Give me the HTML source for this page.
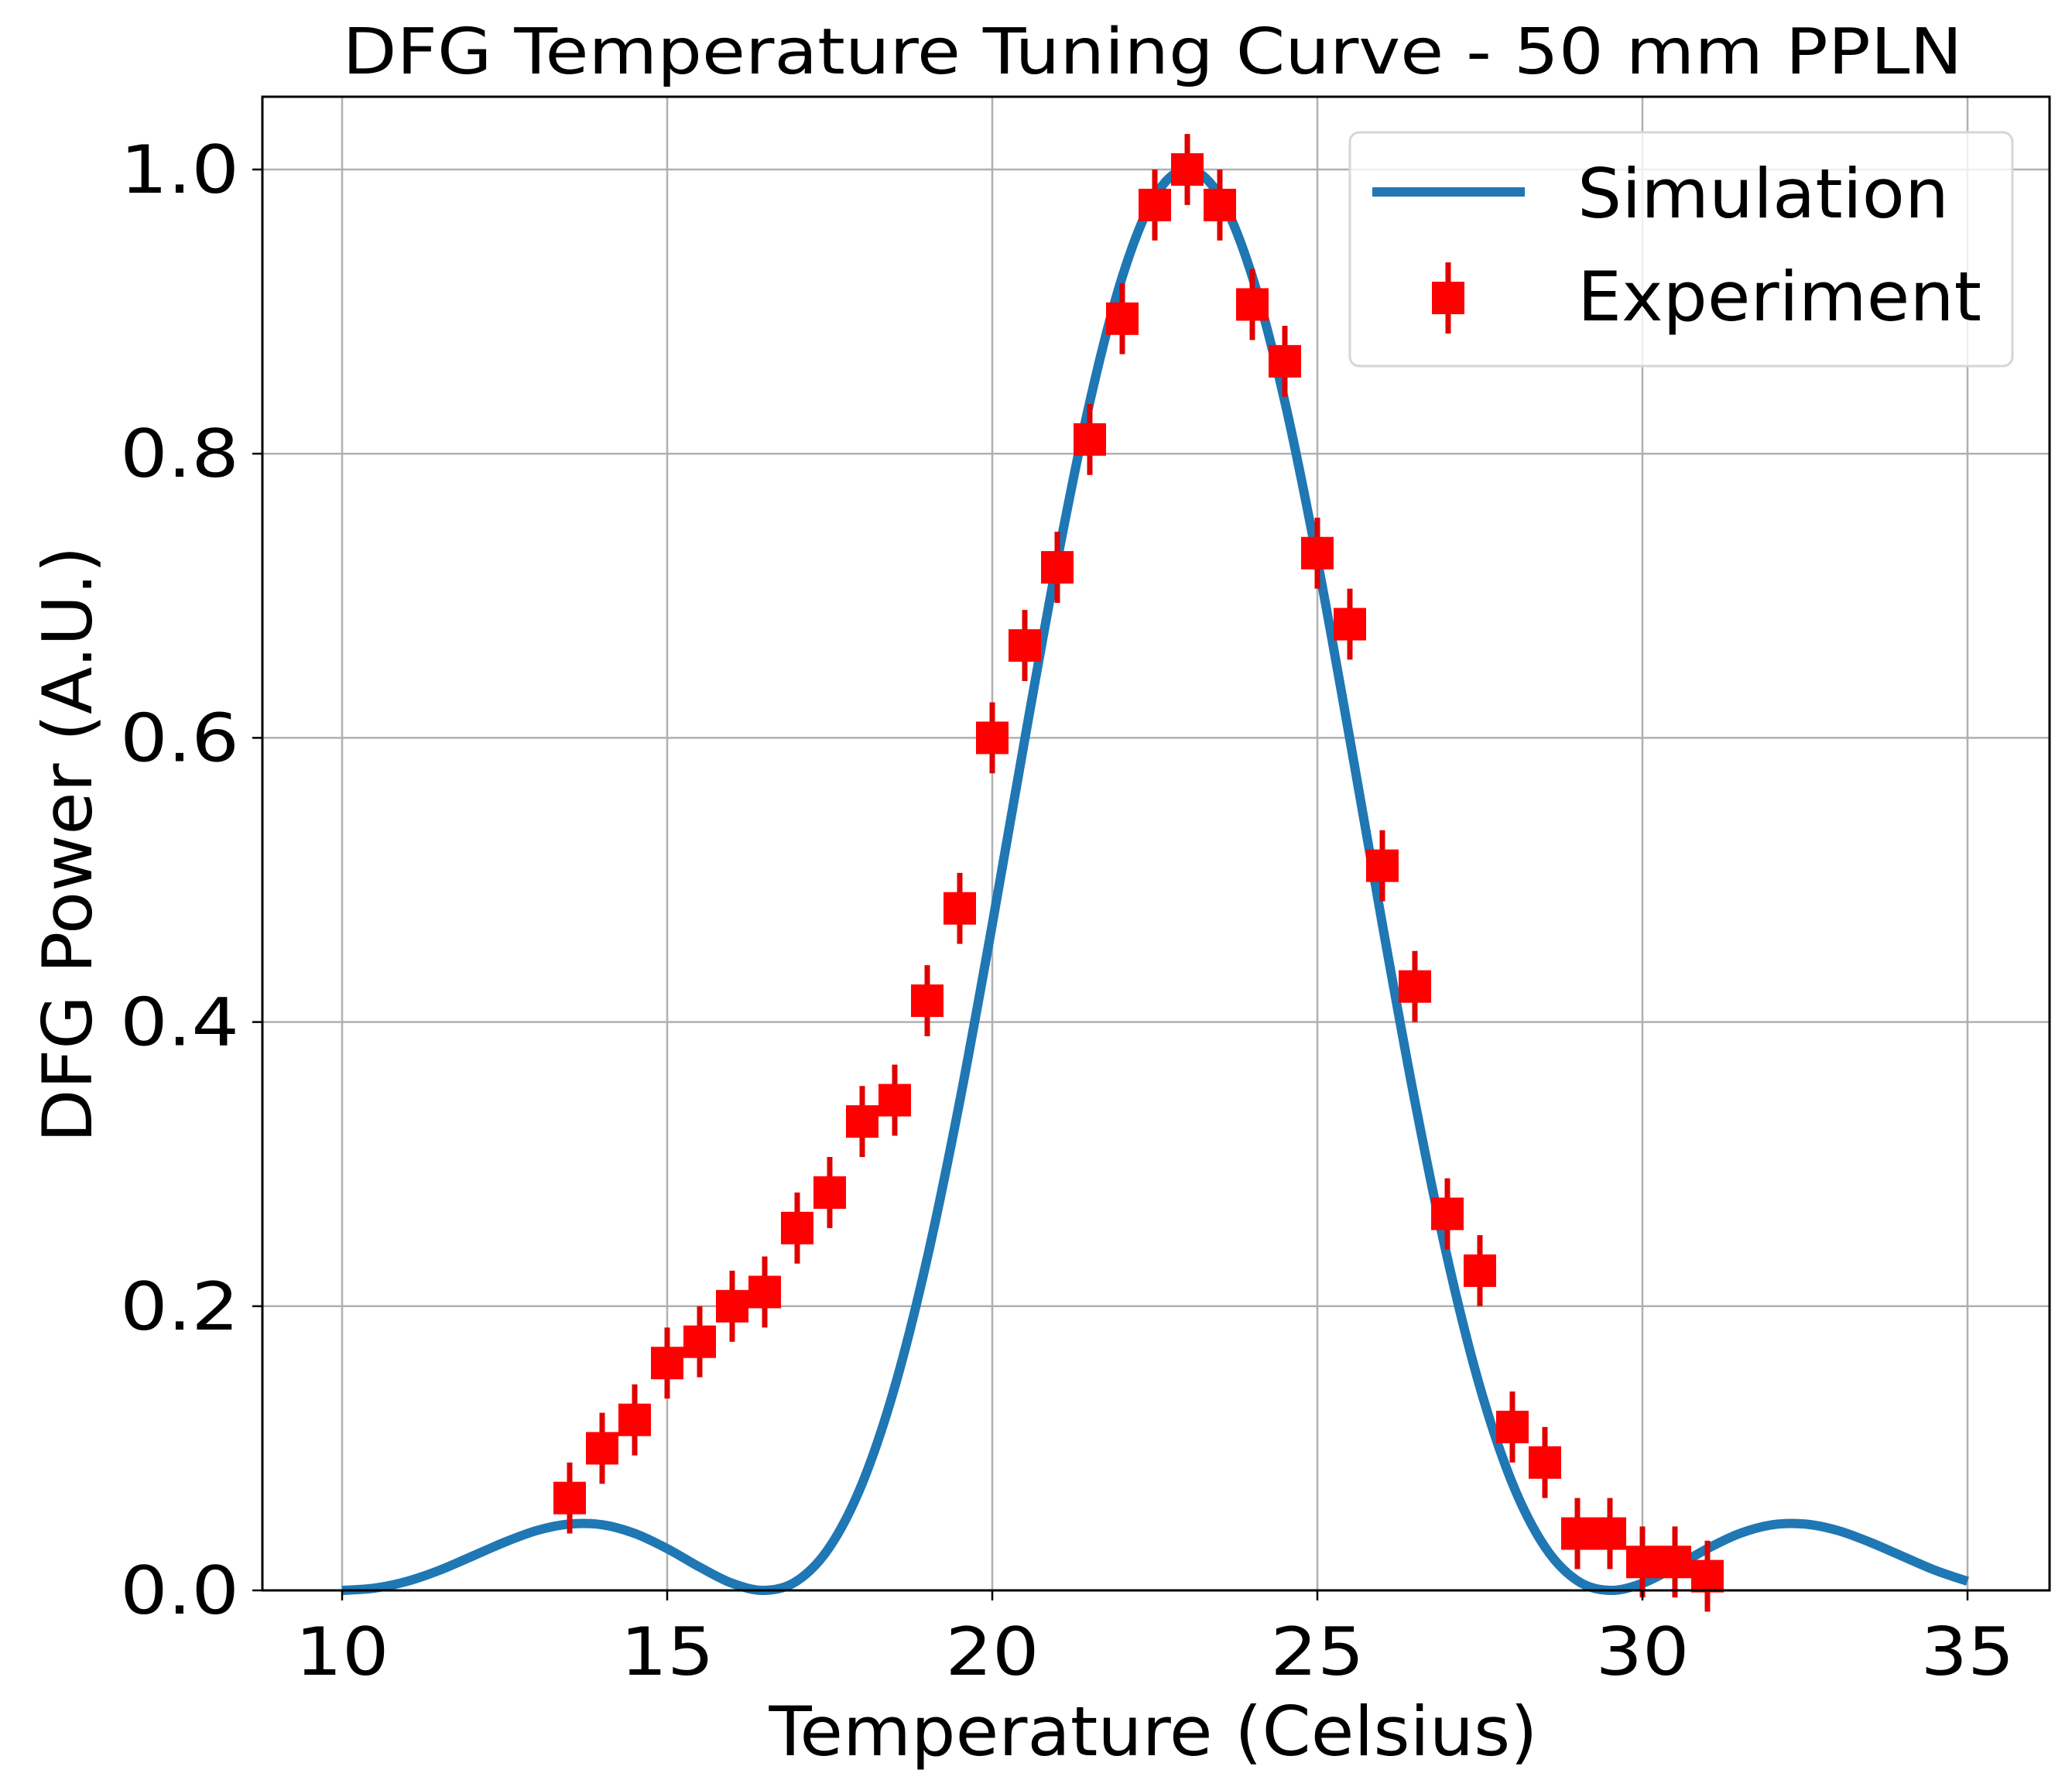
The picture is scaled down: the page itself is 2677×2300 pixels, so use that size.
<!DOCTYPE html>
<html><head><meta charset="utf-8"><style>
html,body{margin:0;padding:0;background:#fff;}
svg{display:block;font-family:"DejaVu Sans","Liberation Sans",sans-serif;}
</style></head><body>
<svg id="chart" width="2677" height="2300" viewBox="0 0 2677 2300" xmlns="http://www.w3.org/2000/svg">
<rect width="2677" height="2300" fill="#fff"/>
<g id="grid"></g>
<g id="sim"></g>
<g id="exp"></g>
<rect x="339" y="125" width="2309" height="1930" fill="none" stroke="#000" stroke-width="3"/>
<g id="ticks"></g>
<text x="1489" y="95" font-size="82" text-anchor="middle" textLength="2093" lengthAdjust="spacingAndGlyphs">DFG Temperature Tuning Curve - 50 mm PPLN</text>
<text x="1490" y="2268" font-size="88" text-anchor="middle" textLength="993" lengthAdjust="spacingAndGlyphs">Temperature (Celsius)</text>
<text x="0" y="0" font-size="88" text-anchor="middle" textLength="771" lengthAdjust="spacingAndGlyphs" transform="translate(118,1091) rotate(-90)">DFG Power (A.U.)</text>
<g>
<rect x="1744" y="171" width="856" height="302" rx="12" fill="#fff" fill-opacity="0.8" stroke="#d6d6d6" stroke-width="3"/>
<line x1="1773" y1="248" x2="1970" y2="248" stroke="#1f77b4" stroke-width="12"/>
<text x="2038" y="281" font-size="88" textLength="480" lengthAdjust="spacingAndGlyphs">Simulation</text>
<line x1="1871" y1="339" x2="1871" y2="431" stroke="#e00000" stroke-width="7"/>
<rect x="1850" y="364" width="42" height="42" fill="#ff0000"/>
<text x="2038" y="414" font-size="88" textLength="522" lengthAdjust="spacingAndGlyphs">Experiment</text>
</g>
</svg>
<script>
const xTicks = [10, 15, 20, 25, 30, 35];
const yTicks = [0.0, 0.2, 0.4, 0.6, 0.8, 1.0];
const yTickLabels = ["0.0", "0.2", "0.4", "0.6", "0.8", "1.0"];
const simT = [10,10.5,11,11.5,12,12.5,13,13.5,14,14.5,15,15.5,16,16.5,17,17.5,18,18.5,19,19.5,20,20.5,21,21.5,22,22.5,23,23.5,24,24.5,25,25.5,26,26.5,27,27.5,28,28.5,29,29.5,30,30.5,31,31.5,32,32.5,33,33.5,34,34.5,35];
const simP = [0,0.0016,0.0064,0.0142,0.024,0.0339,0.0422,0.0467,0.0462,0.0401,0.0294,0.0164,0.005,0,0.0068,0.0306,0.0753,0.1432,0.2339,0.3443,0.4687,0.599,0.725,0.8365,0.9245,0.981,1,0.981,0.9245,0.8365,0.725,0.599,0.4687,0.3443,0.2339,0.1432,0.0753,0.0306,0.0068,0,0.005,0.0164,0.0294,0.0401,0.0462,0.0467,0.0422,0.0339,0.024,0.0142,0.0064];
const expT = [13.5,14,14.5,15,15.5,16,16.5,17,17.5,18,18.5,19,19.5,20,20.5,21,21.5,22,22.5,23,23.5,24,24.5,25,25.5,26,26.5,27,27.5,28,28.5,29,29.5,30,30.5,31];
const expP = [0.065,0.10,0.12,0.16,0.175,0.20,0.21,0.255,0.28,0.33,0.345,0.415,0.48,0.60,0.665,0.72,0.81,0.895,0.975,1.0,0.975,0.905,0.865,0.73,0.68,0.51,0.425,0.265,0.225,0.115,0.09,0.04,0.04,0.02,0.02,0.01];
const expErr = [0.025,0.025,0.025,0.025,0.025,0.025,0.025,0.025,0.025,0.025,0.025,0.025,0.025,0.025,0.025,0.025,0.025,0.025,0.025,0.025,0.025,0.025,0.025,0.025,0.025,0.025,0.025,0.025,0.025,0.025,0.025,0.025,0.025,0.025,0.025,0.025];

const NS = "http://www.w3.org/2000/svg";
const X0 = 442, X1 = 2542, Y0 = 2055, Y1 = 219;
function sx(v){ return X0 + (v - 10) / 25 * (X1 - X0); }
function sy(v){ return Y0 - v * (Y0 - Y1); }
function mk(tag, attrs, parent){ const e = document.createElementNS(NS, tag); for (const k in attrs) e.setAttribute(k, attrs[k]); parent.appendChild(e); return e; }

const grid = document.getElementById('grid');
const ticks = document.getElementById('ticks');
xTicks.forEach(t => {
  const g = mk('line', {x1: sx(t), x2: sx(t), y1: 125, y2: 2055, stroke: '#b0b0b0', 'stroke-width': 2.5}, grid);
  
  
  const tm = mk('line', {x1: sx(t), x2: sx(t), y1: 2055, y2: 2068, stroke: '#000', 'stroke-width': 2.5}, ticks);
  
  
  const tl = mk('text', {x: 0, y: 0, 'font-size': 82, 'text-anchor': 'middle', transform: 'translate(' + sx(t) + ',2164) scale(1.16,1.04)'}, ticks);
  tl.textContent = String(t);
  
  
});
yTicks.forEach((t, i) => {
  const g = mk('line', {x1: 339, x2: 2648, y1: sy(t), y2: sy(t), stroke: '#b0b0b0', 'stroke-width': 2.5}, grid);
  
  
  const tm = mk('line', {x1: 326, x2: 339, y1: sy(t), y2: sy(t), stroke: '#000', 'stroke-width': 2.5}, ticks);
  
  
  const tl = mk('text', {x: 0, y: 0, 'font-size': 82, 'text-anchor': 'end', transform: 'translate(309,' + (sy(t) + 30) + ') scale(1.18,1.04)'}, ticks);
  tl.textContent = yTickLabels[i];
  
  
});

const pts = simT.map((t, i) => [sx(t), sy(simP[i])]);
let d = 'M' + pts[0][0] + ',' + pts[0][1];
for (let i = 0; i < pts.length - 1; i++) {
  const p0 = pts[Math.max(0, i - 1)], p1 = pts[i], p2 = pts[i + 1], p3 = pts[Math.min(pts.length - 1, i + 2)];
  const c1x = p1[0] + (p2[0] - p0[0]) / 6, c1y = p1[1] + (p2[1] - p0[1]) / 6;
  const c2x = p2[0] - (p3[0] - p1[0]) / 6, c2y = p2[1] - (p3[1] - p1[1]) / 6;
  d += ' C' + c1x + ',' + c1y + ' ' + c2x + ',' + c2y + ' ' + p2[0] + ',' + p2[1];
}
const line = mk('path', {d: d, fill: 'none', stroke: '#1f77b4', 'stroke-width': 12, 'stroke-linejoin': 'round'}, document.getElementById('sim'));



const exp = document.getElementById('exp');
expT.forEach((t, i) => {
  const cx = sx(t), cy = sy(expP[i]);
  const eb = mk('line', {x1: cx, x2: cx, y1: sy(expP[i] + expErr[i]), y2: sy(expP[i] - expErr[i]), stroke: '#e00000', 'stroke-width': 7}, exp);
  
  
  const m = mk('rect', {x: cx - 21, y: cy - 21, width: 42, height: 42, fill: '#ff0000'}, exp);
  
  
});
</script>
</body></html>
